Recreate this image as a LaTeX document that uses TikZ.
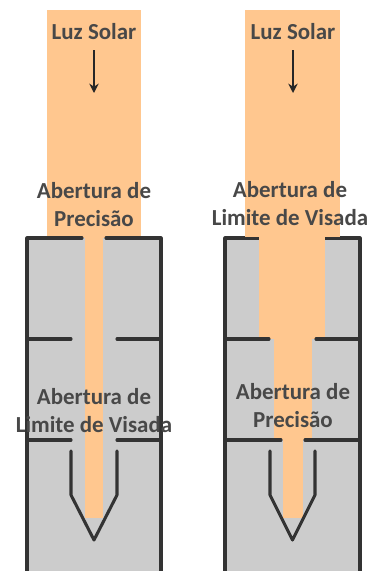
\documentclass[tikz,border=0pt]{standalone}
\usepackage{fontspec}
\setmainfont{Carlito}
\usepackage{tikz}
\usetikzlibrary{arrows.meta}

\definecolor{beam}{HTML}{FFC78F}
\definecolor{housing}{HTML}{CCCCCC}
\definecolor{wall}{HTML}{333333}
\definecolor{caption}{HTML}{484848}

\tikzset{
	label/.style={font=\fontsize{17.2}{21}\selectfont\bfseries, text=caption, align=center, inner sep=0pt},
	rim/.style={draw=wall, line width=2.3pt, line cap=round, line join=round},
	ray/.style={-{Stealth[length=7pt,width=7pt]}, line width=1.1pt, black!85}
}

\begin{document}
\begin{tikzpicture}[x=0.75pt, y=-0.75pt]
	\useasboundingbox (0,0) rectangle (370,571);

	% Left: housing and beam
	\fill [housing]	(27,238) rectangle (161,571);
	\fill [beam]	(47,10) rectangle (141,238);
	\fill [beam]	(85,238) rectangle (103,518);

	% Left: baffles
	\draw [rim]	(27,571) -- (27,238) -- (82,238);
	\draw [rim]	(106,238) -- (161,238) -- (161,571);
	\draw [rim]	(27,339) -- (71,339);
	\draw [rim]	(117,339) -- (161,339);
	\draw [rim]	(27,440) -- (71,440);
	\draw [rim]	(117,440) -- (161,440);
	\draw [rim]	(71,451) -- (71,495) -- (94,540) -- (117,495) -- (117,451);

	% Right: housing and beam
	\fill [housing]	(225,238) rectangle (360,571);
	\draw [rim]	(225,571) -- (225,238) -- (259,238);
	\draw [rim]	(325,238) -- (360,238) -- (360,571);
	\fill [beam]	(245,10) rectangle (340,237);
	\fill [beam]	(259,237) rectangle (325,339);
	\fill [beam]	(274,339) rectangle (312,440);
	\fill [beam]	(283,440) rectangle (303,518);

	% Right: baffles
	\draw [rim]	(225,339) -- (269,339);
	\draw [rim]	(316,339) -- (360,339);
	\draw [rim]	(225,440) -- (281,440);
	\draw [rim]	(305,440) -- (360,440);
	\draw [rim]	(270,451) -- (270,495) -- (292.5,540) -- (315,495) -- (315,451);

	% Labels
	\node [label] (sunL) at (94,32)		{Luz Solar};
	\node [label] (sunR) at (293,32)	{Luz Solar};
	\node [label] (precL) at (94,205)	{Abertura de\\Precisão};
	\node [label] (fovL) at (94,411)	{Abertura de\\Limite de Visada};
	\node [label] (fovR) at (290,204)	{Abertura de\\Limite de Visada};
	\node [label] (precR) at (293,406)	{Abertura de\\Precisão};

	% Arrows
	\coordinate (tipL) at (94,93);
	\coordinate (tipR) at (293,93);
	\coordinate (tailL) at (94,50);
	\coordinate (tailR) at (293,50);
	\draw [ray] (tailL) -- (tipL);
	\draw [ray] (tailR) -- (tipR);
\end{tikzpicture}
\end{document}
